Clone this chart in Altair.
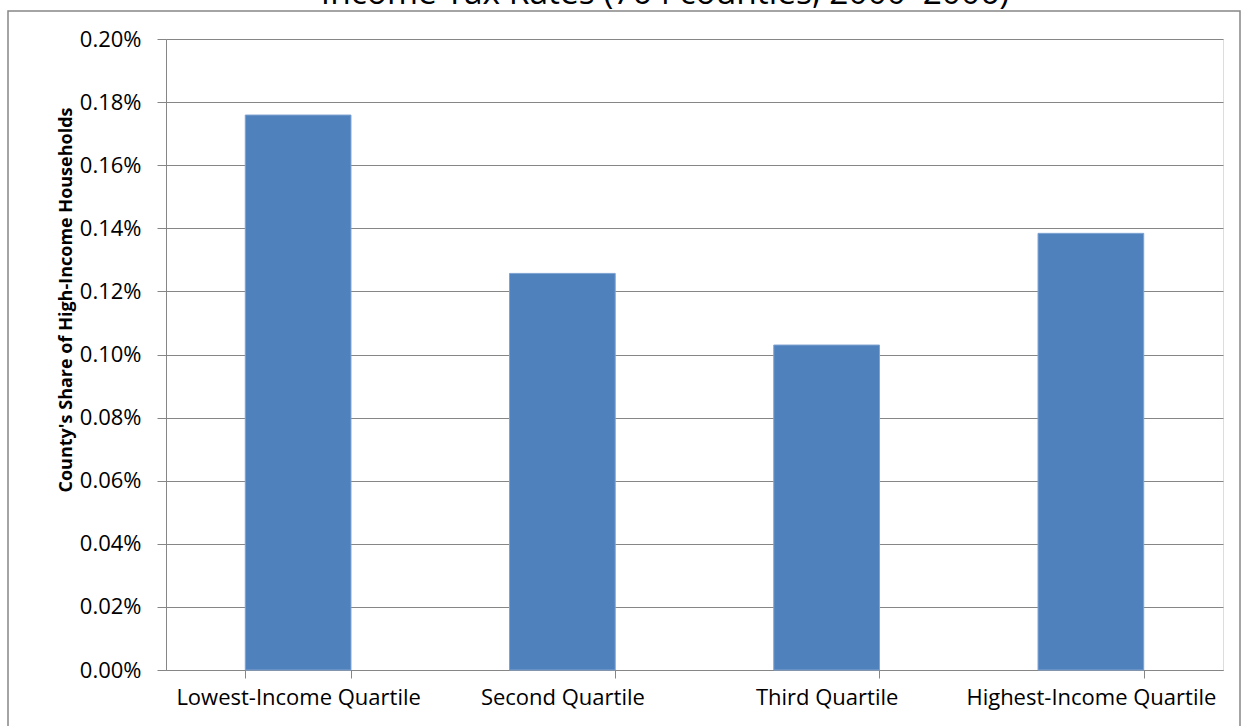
import altair as alt
import pandas as pd

categories = ["Lowest-Income Quartile", "Second Quartile", "Third Quartile", "Highest-Income Quartile"]
shares = [0.001759, 0.001257, 0.001030, 0.001384]
y_ticks = [0.0, 0.0002, 0.0004, 0.0006, 0.0008, 0.0010, 0.0012, 0.0014, 0.0016, 0.0018, 0.0020]
title_text = "Income Tax Rates (764 counties, 2000\u20132006)"
y_title_text = "County's Share of High-Income Households"

W, H = 1057, 631
PAD_L, PAD_T = 166, 39
GRAY = "#868686"

df = pd.DataFrame({"category": categories, "share": shares})
one = pd.DataFrame({"k": [0]})

x_enc = alt.X(
    "category:N",
    sort=categories,
    scale=alt.Scale(paddingInner=0.6, paddingOuter=0.3),
    axis=alt.Axis(
        title=None, labelAngle=0, labelFont="Open Sans", labelFontSize=22,
        labelColor="#000000", labelLimit=0, tickBand="extent", tickSize=8,
        tickColor=GRAY, domainColor=GRAY, domainWidth=1, labelPadding=9,
        grid=False,
    ),
)
y_enc = alt.Y(
    "share:Q",
    scale=alt.Scale(domain=[0, 0.002], nice=False, zero=True),
    axis=alt.Axis(
        title=None, values=y_ticks, format=".2%", labelFont="Open Sans",
        labelFontSize=22, labelColor="#000000", tickSize=9, tickColor=GRAY,
        domainColor=GRAY, domainWidth=1, labelPadding=16, grid=True,
        gridColor=GRAY, gridWidth=1, gridOpacity=1,
    ),
)

bars = alt.Chart(df).mark_bar(
    color="#4F81BD", stroke="#7EA3D3", strokeWidth=1
).encode(x=x_enc, y=y_enc)

frame = alt.Chart(one).mark_rect(
    fillOpacity=0, stroke=GRAY, strokeWidth=1.5
).encode(
    x=alt.value(8 - PAD_L), x2=alt.value(1240 - PAD_L),
    y=alt.value(11 - PAD_T), y2=alt.value(760 - PAD_T),
)

title = alt.Chart(one).mark_text(
    text=title_text, font="Open Sans", fontSize=33.5, align="center",
    baseline="alphabetic", color="#000000",
).encode(x=alt.value(665 - PAD_L), y=alt.value(3.5 - PAD_T))

ytitle = alt.Chart(one).mark_text(
    text=y_title_text, font="Open Sans", fontSize=18, fontWeight="bold",
    align="center", baseline="middle", angle=270, color="#000000",
).encode(x=alt.value(67 - PAD_L), y=alt.value(300 - PAD_T))

chart = alt.layer(frame, bars, title, ytitle).properties(
    width=W, height=H,
    autosize=alt.AutoSizeParams(type="none"),
    padding={"left": PAD_L, "top": PAD_T, "right": 1248 - PAD_L - W, "bottom": 726 - PAD_T - H},
).configure_view(stroke=None).configure(background="white")

chart.save("out.html", embed_options={"renderer": "svg", "actions": False})
